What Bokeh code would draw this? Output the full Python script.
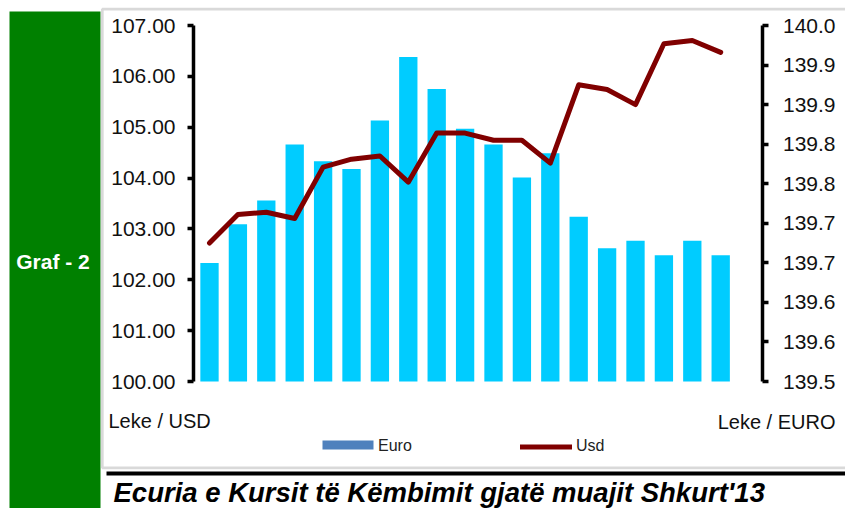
from bokeh.plotting import figure
from bokeh.models import (Range1d, LinearAxis, FixedTicker, PrintfTickFormatter, CDSView,
                          IndexFilter, Label, BoxAnnotation, Legend, LegendItem,
                          ColumnDataSource)
from bokeh.embed import file_html
from bokeh.resources import INLINE

# ---------------- data ----------------
day_index = list(range(19))
euro_bars = [102.33, 103.09, 103.56, 104.66, 104.33, 104.18, 105.13, 106.38, 105.75, 104.97,
             104.66, 104.01, 104.49, 103.24, 102.62, 102.77, 102.48, 102.77, 102.48]
usd_line = [139.725, 139.761, 139.764, 139.756, 139.821, 139.831, 139.835, 139.802, 139.864,
            139.864, 139.855, 139.855, 139.826, 139.925, 139.919, 139.900, 139.977, 139.981,
            139.966]
left_ticks = [100, 101, 102, 103, 104, 105, 106, 107]
right_ticks = [139.55, 139.6, 139.65, 139.7, 139.75, 139.8, 139.85, 139.9, 139.95, 140.0]
right_tick_labels = ["139.5", "139.6", "139.6", "139.7", "139.7",
                     "139.8", "139.8", "139.9", "139.9", "140.0"]
side_tag = "Graf - 2"
left_unit = "Leke / USD"
right_unit = "Leke / EURO"
legend_labels = ["Euro", "Usd"]
caption = "Ecuria e Kursit t\u00eb K\u00ebmbimit gjat\u00eb muajit Shkurt'13"

# ---------------- layout (pixels) ----------------
W, H = 845, 508
FIRST_BAR_PX = 209.0        # centre of first bar
STEP_PX = 28.4              # category step
AXIS_L_PX, AXIS_R_PX = 193.0, 761.5
TOP_PX, BOT_PX = 25.0, 381.0

BAR_COLOR = "#00CCFF"
LINE_COLOR = "#800000"
LEG_BAR_COLOR = "#4F81BD"
FONT = "Liberation Sans"
NARROW = "'Liberation Sans Narrow', 'Liberation Sans'"

x0 = -FIRST_BAR_PX / STEP_PX
x1 = (W - FIRST_BAR_PX) / STEP_PX


def y_span(lo, hi):
    per = (BOT_PX - TOP_PX) / (hi - lo)
    return Range1d(lo - (H - BOT_PX) / per, hi + TOP_PX / per)


src = ColumnDataSource(dict(x=day_index, bars=euro_bars, line=usd_line))

p = figure(width=W, height=H, x_range=Range1d(x0, x1), y_range=y_span(100, 107),
           x_axis_location=None, y_axis_location=None,
           toolbar_location=None, output_backend="svg",
           min_border=0, min_border_left=0, min_border_right=0,
           min_border_top=0, min_border_bottom=0)
p.outline_line_color = None
p.grid.visible = False
p.background_fill_color = "white"
p.border_fill_color = "white"
p.extra_y_ranges = {"eur": y_span(139.55, 140.0)}


def style_axis(ax, standoff):
    ax.axis_line_width = 3.5
    ax.axis_line_color = "black"
    ax.major_tick_line_width = 3.5
    ax.major_tick_line_color = "black"
    ax.major_tick_out = 6
    ax.major_tick_in = 0
    ax.minor_tick_line_color = None
    ax.major_label_text_font = FONT
    ax.major_label_text_font_size = "21px"
    ax.major_label_text_color = "#111111"
    ax.major_label_standoff = standoff


# decorations (screen units: x from left, y from bottom of the canvas)
def sy(ypx):
    return H - ypx


def box(left, right, top, bottom, **kw):
    return BoxAnnotation(left=left, right=right, top=sy(top), bottom=sy(bottom),
                         left_units="screen", right_units="screen",
                         top_units="screen", bottom_units="screen", **kw)


p.add_layout(box(9, 100, 11, H + 5, level="underlay", fill_color="#008000", fill_alpha=1.0,
                 line_color=None))
p.add_layout(box(101.8, W + 20, 8.7, 467.3, level="underlay", fill_alpha=0,
                 line_color="#D9D9D9", line_alpha=1.0, line_width=2.7))
p.add_layout(box(106, W + 20, 471, 475, fill_color="black", fill_alpha=1.0, line_color=None))

bars = p.vbar(x="x", top="bars", bottom=100, width=0.645, source=src,
              fill_color=BAR_COLOR, line_color=None)
line = p.line(x="x", y="line", source=src, y_range_name="eur", line_color=LINE_COLOR,
              line_width=5, line_join="round", line_cap="round")
# legend entry for the bar series (same data, nothing drawn in the plot)
bar_key = p.vbar(x="x", top="bars", bottom=100, width=0.645, source=src,
                 view=CDSView(filter=IndexFilter(indices=[])),
                 fill_color=LEG_BAR_COLOR, line_color=None)

left_ax = LinearAxis(ticker=FixedTicker(ticks=left_ticks),
                     formatter=PrintfTickFormatter(format="%.2f"),
                     fixed_location=x0 + AXIS_L_PX / STEP_PX, bounds=(100, 107))
style_axis(left_ax, 12)
p.add_layout(left_ax, "left")

right_ax = LinearAxis(y_range_name="eur", ticker=FixedTicker(ticks=right_ticks),
                      major_label_overrides={t: l for t, l in zip(right_ticks, right_tick_labels)},
                      fixed_location=x0 + AXIS_R_PX / STEP_PX, bounds=(139.55, 140.0))
style_axis(right_ax, 15)
p.add_layout(right_ax, "right")

leg_common = dict(orientation="horizontal", glyph_height=13, label_height=13,
                  padding=0, margin=0, spacing=0, border_line_color=None,
                  background_fill_alpha=0, label_text_font=NARROW,
                  label_text_font_size="16px", label_text_color="#222222")
leg1 = Legend(items=[LegendItem(label=legend_labels[0], renderers=[bar_key])],
              location=(316, 53), glyph_width=62, label_standoff=0, **leg_common)
leg2 = Legend(items=[LegendItem(label=legend_labels[1], renderers=[line])],
              location=(520, 53), glyph_width=52, label_standoff=4, **leg_common)
p.add_layout(leg1)
p.add_layout(leg2)
# swatch of the bar legend entry
p.add_layout(box(322, 373, 440, 449, fill_color=LEG_BAR_COLOR, fill_alpha=1.0,
                 line_color=None))

p.add_layout(Label(x=52.5, y=sy(261), x_units="screen", y_units="screen", text=side_tag,
                   text_align="center", text_baseline="middle", text_color="white",
                   text_font=FONT, text_font_style="bold", text_font_size="21px"))
p.add_layout(Label(x=108, y=sy(420), x_units="screen", y_units="screen", text=left_unit,
                   text_align="left", text_baseline="middle", text_color="#111111",
                   text_font=FONT, text_font_size="20px"))
p.add_layout(Label(x=835, y=sy(421), x_units="screen", y_units="screen", text=right_unit,
                   text_align="right", text_baseline="middle", text_color="#111111",
                   text_font=FONT, text_font_size="20px"))
p.add_layout(Label(x=113, y=sy(492), x_units="screen", y_units="screen", text=caption,
                   text_align="left", text_baseline="middle", text_color="black",
                   text_font=FONT, text_font_style="bold italic", text_font_size="27.5px"))

open("out.html", "w").write(file_html(p, INLINE))
